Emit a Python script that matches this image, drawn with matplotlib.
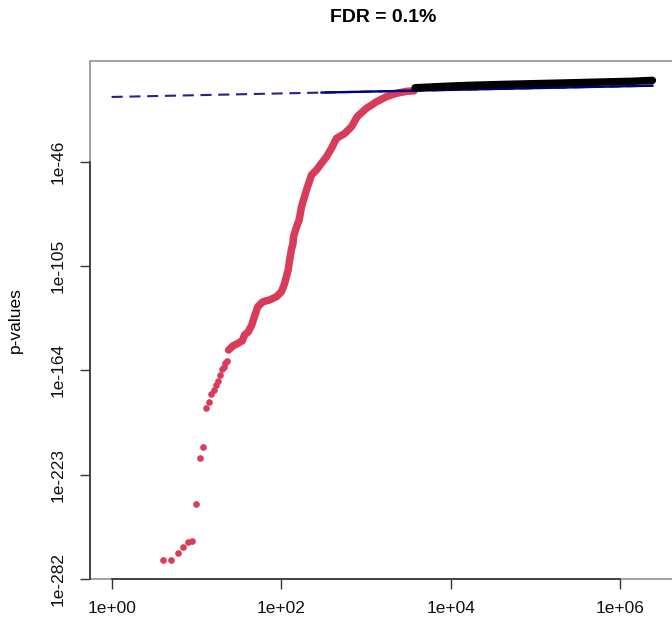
import matplotlib
matplotlib.use("Agg")
import matplotlib.pyplot as plt
from matplotlib.patches import Rectangle
import numpy as np

plt.rcParams['font.family'] = ['Liberation Sans', 'DejaVu Sans']
plt.rcParams['lines.scale_dashes'] = False

# ---- data ----
title = "FDR = 0.1%"
ylabel = "p-values"
n_tests = 2.4e6          # number of tests (m)
fdr_q = 0.001            # FDR level

# significant points (red), individual low ranks
red_rank_sparse = [4, 5, 6, 7, 8, 9, 10, 11, 12, 13, 14, 15, 16, 17, 18, 19, 20, 21, 22, 23]
red_logp_sparse = [-271.3, -271.3, -267.2, -263.8, -260.9, -260.4, -239.8, -213.4, -207.2,
                   -185.3, -181.7, -177.4, -175.1, -172.3, -170.0, -166.6, -163.3, -162.0,
                   -159.9, -158.7]

# significant points (red), dense part
red_rank_dense = [24, 27, 31, 35, 37, 41, 45, 47, 53, 61, 73, 88, 101, 110, 121, 126, 132,
                  138, 140, 152, 163, 174, 199, 228, 261, 299, 343, 393, 450, 563, 676,
                  790, 1016, 1334, 1750, 2297, 3015, 3700]
red_logp_dense = [-152.5, -150.2, -148.7, -147.2, -144.0, -142.2, -138.4, -135.5, -128.0,
                  -125.2, -124.2, -122.4, -119.5, -114.8, -107.3, -101.6, -95.9, -92.2,
                  -88.4, -82.8, -79.0, -71.5, -62.0, -53.5, -50.7, -46.9, -43.2, -38.4,
                  -32.8, -30.0, -26.2, -20.5, -15.8, -12.1, -9.2, -7.3, -6.2, -5.9]

# non-significant points (black)
black_rank = [3800, 7450, 15000, 41300, 211000, 1.42e6, 2.4e6]
black_logp = [-4.2, -3.5, -2.9, -2.3, -1.5, -0.5, 0.0]

xticks = [1e0, 1e2, 1e4, 1e6]
xtick_labels = ["1e+00", "1e+02", "1e+04", "1e+06"]
ytick_exp = [-46, -105, -164, -223, -282]
ytick_labels = ["1e-46", "1e-105", "1e-164", "1e-223", "1e-282"]

# ---- figure ----
W, H = 672, 622
fig = plt.figure(figsize=(W / 100, H / 100), dpi=100)
left_px, right_px, top_px, bot_px = 90, 674, 61.2, 579.2
ax = fig.add_axes([left_px / W, 1 - bot_px / H, (right_px - left_px) / W, (bot_px - top_px) / H])
ax.set_xscale('log')
ax.set_yscale('log')
ax.set_xlim(10 ** -0.255, 10 ** 6.635)
ax.set_ylim(10.0 ** -282.15, 10.0 ** 10.85)

red = '#D93B5B'
ms = 4.8
# BH threshold line
ranks_line = np.array([1.0, n_tests])
ax.plot(ranks_line, ranks_line / n_tests * fdr_q, color='#222290', lw=1.5,
        dashes=(8.0, 4.8), zorder=4)
solid_start = 300
ax.plot([solid_start, n_tests], np.array([solid_start, n_tests]) / n_tests * fdr_q,
        color='#000080', lw=1.7, zorder=4)

ax.plot(red_rank_sparse, 10.0 ** np.array(red_logp_sparse), 'o', color=red, ms=ms,
        mec='none', zorder=3)
ax.plot(red_rank_dense, 10.0 ** np.array(red_logp_dense), '-', color=red, lw=5.4,
        solid_capstyle='round', solid_joinstyle='round', zorder=3)
ax.plot(black_rank, 10.0 ** np.array(black_logp), '-', color='black', lw=5.4,
        solid_capstyle='round', solid_joinstyle='round', zorder=5)

# frame and axes
for s in ax.spines.values():
    s.set_visible(False)
ax.add_patch(Rectangle((0, 0), 1, 1, transform=ax.transAxes, fill=False,
                       ec='#9a9a9a', lw=1.3, clip_on=False, zorder=6))
ax.spines['left'].set_visible(True)
ax.spines['bottom'].set_visible(True)
ax.spines['left'].set_bounds(10.0 ** ytick_exp[-1], 10.0 ** ytick_exp[0])
ax.spines['bottom'].set_bounds(xticks[0], xticks[-1])
for k in ('left', 'bottom'):
    ax.spines[k].set_color('#333333')
    ax.spines[k].set_linewidth(1.2)
    ax.spines[k].set_zorder(7)

ax.set_xticks(xticks)
ax.set_xticklabels(xtick_labels)
ax.set_yticks([10.0 ** e for e in ytick_exp])
ax.set_yticklabels(ytick_labels, rotation=90, va='center')
ax.minorticks_off()
ax.tick_params(axis='both', length=7.5, width=1.0, color='#333333', labelsize=12.5,
               labelcolor='#111111')
ax.tick_params(axis='x', pad=8)
ax.tick_params(axis='y', pad=10)

fig.text(383 / W, 1 - 18 / H, title, ha='center', va='center', fontsize=14,
         fontweight='bold')
fig.text(15 / W, 1 - 320 / H, ylabel, ha='center', va='center', rotation=90,
         fontsize=12.5)

fig.savefig('out.png', dpi=100)
